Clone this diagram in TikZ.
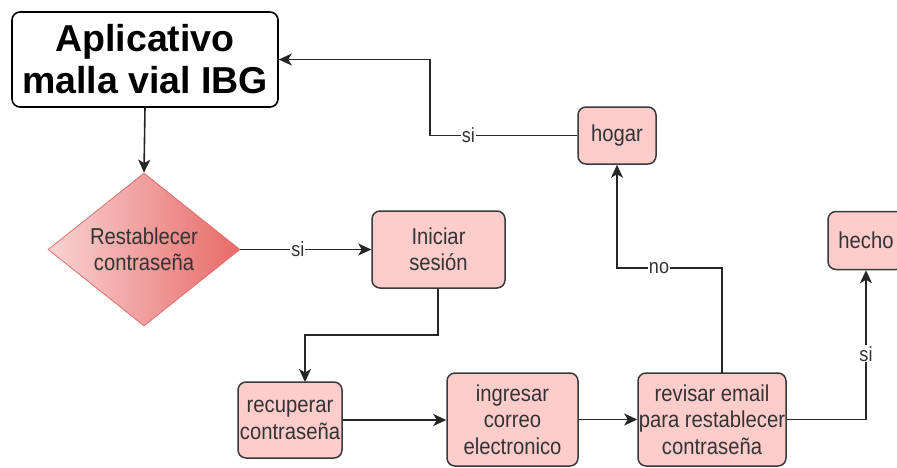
\documentclass[tikz,border=0pt]{standalone}
\usepackage{fontspec}
\setmainfont{Liberation Sans}
\newfontfamily\narrowsans[FakeStretch=0.88]{Liberation Sans}
\usetikzlibrary{shapes.geometric,arrows.meta,calc}
\definecolor{boxfill}{HTML}{FFCCCC}
\definecolor{boxline}{HTML}{36393D}
\definecolor{txt}{HTML}{333333}
\definecolor{dialeft}{HTML}{F8D3D2}
\definecolor{diaright}{HTML}{E86A68}
\definecolor{dialine}{HTML}{E07070}
\begin{document}
\begin{tikzpicture}[x=1pt,y=-1pt,
  box/.style={draw=boxline,fill=boxfill,rounded corners=8pt,line width=1.5pt,
    text=txt,align=center,inner sep=0pt,font=\narrowsans\fontsize{23}{26.5}\selectfont},
  conn/.style={draw=black!85,line width=1.6pt,-{Stealth[length=13pt,width=12pt,inset=3.5pt]}},
  lbl/.style={fill=white,text=txt,inner sep=1pt,font=\narrowsans\fontsize{20.5}{22}\selectfont}]
\useasboundingbox (0,0) rectangle (897,467);

\node[box,draw=black,fill=white,text=black,line width=1.6pt,minimum width=266pt,minimum height=95pt,
  font=\bfseries\fontsize{37.5}{42}\selectfont] (title) at (145,59.5) {Aplicativo\\malla vial IBG};

\node[diamond,draw=dialine,line width=0.8pt,left color=dialeft,right color=diaright,
  minimum width=192pt,minimum height=153pt,shape aspect=1.25,inner sep=0pt,
  text=txt,align=center,font=\narrowsans\fontsize{23}{26.5}\selectfont] (dia) at (144,249.5) {Restablecer\\contraseña};

\node[box,minimum width=133pt,minimum height=77pt] (ini) at (438.5,249.5) {Iniciar\\sesión};
\node[box,minimum width=104pt,minimum height=76pt] (rec) at (290,420) {recuperar\\contraseña};
\node[box,minimum width=131pt,minimum height=93pt] (ing) at (512.5,419.5) {ingresar\\correo\\electronico};
\node[box,minimum width=148pt,minimum height=93pt] (rev) at (712,419.5) {revisar email\\para restablecer\\contraseña};
\node[box,minimum width=78pt,minimum height=57pt] (hog) at (617,135.5) {hogar};
\node[box,minimum width=76pt,minimum height=58pt] (hec) at (866,240.5) {hecho};

\coordinate (c1) at (438,335);
\coordinate (recin) at (305,382);
\coordinate (revout) at (722,373);
\coordinate (c2) at (722,268);
\coordinate (c3) at (430,135.5);

\draw[conn] (title.south) -- (dia.north);
\draw[conn] (dia.east) -- node[lbl,pos=0.44]{si} (ini.west);
\draw[conn] (ini.south -| c1) -- (c1) -| (recin);
\draw[conn] (rec.east) -- (ing.west |- rec.east);
\draw[conn] (ing.east) -- (rev.west);
\draw[conn] (revout) -- (c2) -| node[lbl,pos=0.3]{no} (hog.south);
\draw[conn] (hog.west) -- node[lbl,pos=0.74]{si} (c3) |- (title.east);
\draw[conn] (rev.east) -| node[lbl,pos=0.72]{si} (hec.south);
\end{tikzpicture}
\end{document}
